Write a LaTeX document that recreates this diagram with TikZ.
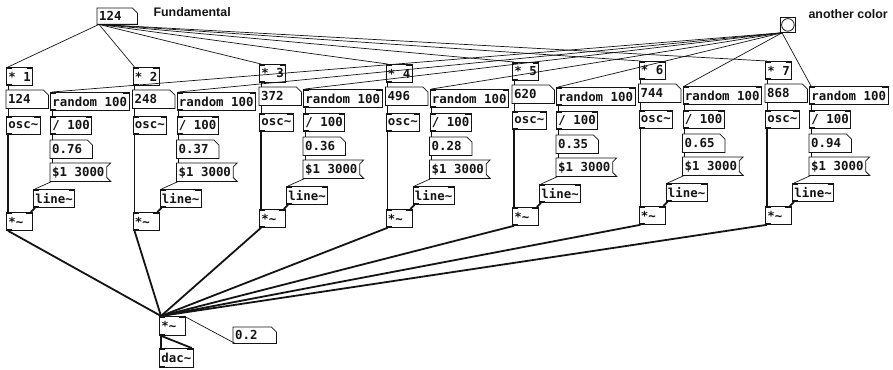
\documentclass[tikz,border=0pt]{standalone}
\usepackage{fontspec}
\setmonofont{DejaVu Sans Mono}
\setsansfont{Liberation Sans}
\usetikzlibrary{math}
\definecolor{pdink}{RGB}{20,20,20}
\newcommand{\pdfont}{\ttfamily\bfseries\fontsize{12.4}{14}\selectfont}
\newcommand{\pdcomment}{\sffamily\bfseries\fontsize{12.4}{15}\selectfont}
\newcommand{\sig}{\textasciitilde}

\tikzset{
  box/.style={draw=pdink, line width=0.8pt},
  pdbox/.style={font=\pdfont, text=pdink, anchor=north west, inner xsep=2pt, inner ysep=0pt, minimum height=18pt, align=left},
  obj/.style={pdbox, box, path picture={
      \fill[pdink] (path picture bounding box.north west) rectangle ++(6pt,-1.6pt);
      \fill[pdink] (path picture bounding box.north east) rectangle ++(-6pt,-1.6pt);
      \fill[pdink] (path picture bounding box.south west) rectangle ++(6pt,1.6pt);}},
  numbox/.style={pdbox, text width=#1, append after command={\pgfextra{
      \draw[box] (\tikzlastnode.north west) -- ([xshift=-5pt]\tikzlastnode.north east)
        -- ([yshift=-5pt]\tikzlastnode.north east) -- (\tikzlastnode.south east)
        -- (\tikzlastnode.south west) -- cycle;}}},
  msgbox/.style={pdbox, append after command={\pgfextra{
      \draw[box] (\tikzlastnode.north west) -- ([xshift=4pt]\tikzlastnode.north east)
        -- ([yshift=-4pt]\tikzlastnode.north east) -- ([yshift=4pt]\tikzlastnode.south east)
        -- ([xshift=4pt]\tikzlastnode.south east) -- (\tikzlastnode.south west) -- cycle;}}},
  ctl/.style={draw=pdink, line width=0.7pt},
  audio/.style={draw=pdink, line width=1.8pt},
}

\begin{document}
\begin{tikzpicture}[x=1pt, y=-1pt]
\tikzmath{
\colstep = 126.5;
\colx = 6;
}
\fill[white] (0,0) rectangle (893,369);
\useasboundingbox (0,0) rectangle (893,369);

% top controls
\node[numbox=36pt, minimum height=16pt] (fund) at (97,8) {124};
\node[font=\pdcomment, text=pdink, anchor=west] (fundtxt) at (150,12) {Fundamental};
\node[box, minimum size=15pt, inner sep=0pt, anchor=north west] (bang) at (780,17) {};
\draw[box] (bang.center) circle (6.3pt);
\node[font=\pdcomment, text=pdink, anchor=west] (bangtxt) at (805,14) {another color};

% mixer and output
\node[obj, text width=22pt, minimum height=19pt] (mix) at (159,316) {*\sig};
\node[numbox=39pt, minimum height=16pt] (vol) at (233,327) {0.2};
\node[obj, minimum height=19pt] (dac) at (159,348) {dac\sig};

% one voice per partial
\foreach \i/\dy/\num/\amp in {1/0/124/0.76, 2/0/248/0.37, 3/-3/372/0.36, 4/-3/496/0.28,
                             5/-5/620/0.35, 6/-6/744/0.65, 7/-6/868/0.94}{
  \tikzmath{\cx = \colx + (\i-1)*\colstep; \cy = \dy;}
  \node[obj] (mul\i) at ({\cx},{67+\cy}) {* \i};
  \node[numbox=38pt] (frq\i) at ({\cx},{90+\cy}) {\num};
  \node[obj] (osc\i) at ({\cx},{116+\cy}) {osc\sig};
  \node[obj, text width=22pt] (vca\i) at ({\cx},{212+\cy}) {*\sig};
  \node[obj] (rnd\i) at ({\cx+44},{92+\cy}) {random 100};
  \node[obj] (div\i) at ({\cx+44},{116+\cy}) {/ 100};
  \node[numbox=38pt] (lev\i) at ({\cx+44},{140+\cy}) {\amp};
  \node[msgbox] (ramp\i) at ({\cx+44},{163+\cy}) {\$1 3000};
  \node[obj] (env\i) at ({\cx+27},{189+\cy}) {line\sig};

  \draw[ctl] ([xshift=2pt]fund.south west) -- ([xshift=2pt]mul\i.north west);
  \draw[ctl] ([xshift=2pt]bang.south west) -- ([xshift=2pt]rnd\i.north west);
  \draw[ctl] ([xshift=2pt]mul\i.south west) -- ([xshift=2pt]frq\i.north west);
  \draw[ctl] ([xshift=2pt]frq\i.south west) -- ([xshift=2pt]osc\i.north west);
  \draw[ctl] ([xshift=2pt]rnd\i.south west) -- ([xshift=2pt]div\i.north west);
  \draw[ctl] ([xshift=2pt]div\i.south west) -- ([xshift=2pt]lev\i.north west);
  \draw[ctl] ([xshift=2pt]lev\i.south west) -- ([xshift=2pt]ramp\i.north west);
  \draw[ctl] ([xshift=2pt]ramp\i.south west) -- ([xshift=2pt]env\i.north west);
  \draw[audio] ([xshift=2pt]osc\i.south west) -- ([xshift=2pt]vca\i.north west);
  \draw[audio] ([xshift=2pt]env\i.south west) -- ([xshift=-2pt]vca\i.north east);
  \draw[audio] ([xshift=2pt]vca\i.south west) -- ([xshift=2pt]mix.north west);
}

\draw[ctl] ([xshift=2pt]vol.south west) -- ([xshift=-2pt]mix.north east);
\draw[audio] ([xshift=2pt]mix.south west) -- ([xshift=2pt]dac.north west);
\draw[audio] ([xshift=2pt]mix.south west) -- ([xshift=-2pt]dac.north east);

\end{tikzpicture}
\end{document}
